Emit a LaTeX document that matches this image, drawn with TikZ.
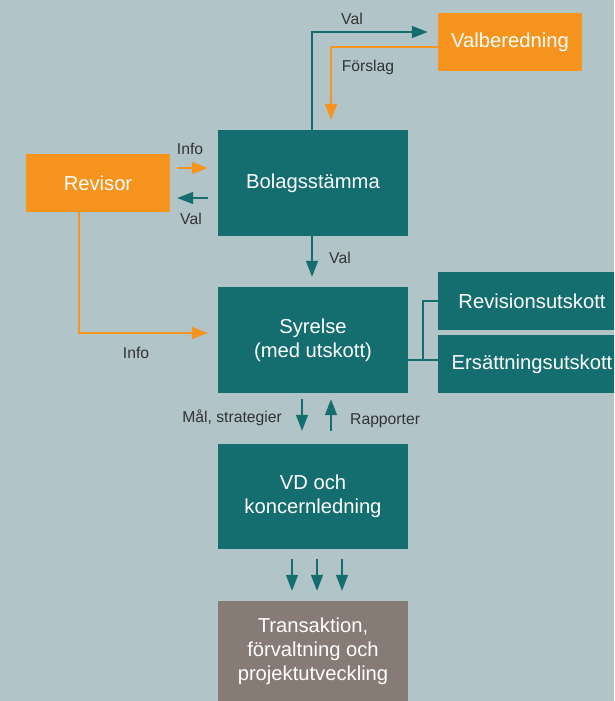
\documentclass[tikz,border=0pt]{standalone}
\usepackage{fontspec}
\setmainfont{Liberation Sans}
\usetikzlibrary{arrows.meta,calc}
\definecolor{bg}{HTML}{B1C4C8}
\definecolor{teal}{HTML}{146E70}
\definecolor{orng}{HTML}{F7941D}
\definecolor{brn}{HTML}{877B76}
\definecolor{lbl}{HTML}{333333}
\tikzset{
  box/.style={draw=none,text=white,align=center,inner sep=0pt,font=\fontsize{20.2}{24}\selectfont},
  tealbox/.style={box,fill=teal},
  orangebox/.style={box,fill=orng},
  brownbox/.style={box,fill=brn},
  lab/.style={text=lbl,inner sep=0pt,font=\fontsize{15.7}{18}\selectfont},
  tarr/.style={draw=teal,line width=1.5pt,-{Triangle[length=16pt,width=12pt]}},
  oarr/.style={draw=orng,line width=1.5pt,-{Triangle[length=16pt,width=12pt]}},
  branch/.style={draw=teal,line width=1.2pt},
}
\begin{document}
\begin{tikzpicture}[x=1pt,y=-1pt]
\fill[bg] (0,0) rectangle (614,701);
\useasboundingbox (0,0) rectangle (614,701);
\clip (0,0) rectangle (614,701);
% boxes
\node[tealbox,minimum width=190pt,minimum height=106pt] (bol) at (313,183) {Bolagsstämma};
\node[tealbox,minimum width=190pt,minimum height=106pt] (syr) at (313,340) {Syrelse\\(med utskott)};
\node[tealbox,minimum width=190pt,minimum height=105pt] (vd) at (313,496.5) {VD och\\koncernledning};
\node[brownbox,minimum width=190pt,minimum height=100pt] (tr) at (313,651) {Transaktion,\\förvaltning och\\projektutveckling};
\node[orangebox,minimum width=144pt,minimum height=58pt] (rev) at (98,183) {Revisor};
\node[orangebox,minimum width=144pt,minimum height=58pt] (valb) at (510,42) {Valberedning};
\node[tealbox,minimum width=188pt,minimum height=58pt] (revu) at (532,301) {Revisionsutskott};
\node[tealbox,minimum width=188pt,minimum height=58pt] (ers) at (532,364) {Ersättningsutskott};
% connectors
\coordinate (j) at (423,360);
\draw[tarr] ($(bol.north)+(-1,0)$) |- ($(valb.west)+(-10,-10)$);
\draw[oarr] ($(valb.west)+(0,5)$) -| ($(bol.north)+(18,-10)$);
\draw[oarr] ($(rev.east)+(7,-15)$) -- ($(bol.west)+(-10,-15)$);
\draw[tarr] ($(bol.west)+(-10,15)$) -- ($(rev.east)+(7,15)$);
\draw[tarr] ($(bol.south)+(-1,0)$) -- ($(syr.north)+(-1,-10)$);
\draw[oarr] ($(rev.south)+(-19,0)$) |- ($(syr.west)+(-10,-7)$);
\draw[branch] (revu.west) -| (j);
\draw[branch] ($(syr.east)+(0,20)$) -- ($(ers.west)+(0,-4)$);
\draw[tarr] ($(syr.south)+(-11,6)$) -- ($(vd.north)+(-11,-13)$);
\draw[tarr] ($(vd.north)+(18,-13)$) -- ($(syr.south)+(18,6)$);
\draw[tarr] ($(vd.south)+(-21,10)$) -- ($(tr.north)+(-21,-10)$);
\draw[tarr] ($(vd.south)+(4,10)$) -- ($(tr.north)+(4,-10)$);
\draw[tarr] ($(vd.south)+(29,10)$) -- ($(tr.north)+(29,-10)$);
% labels
\node[lab,anchor=base] (l1) at (352,25) {Val};
\node[lab,anchor=base] (l2) at (368,71) {Förslag};
\node[lab,anchor=base] (l3) at (190,154) {Info};
\node[lab,anchor=base] (l4) at (191,224) {Val};
\node[lab,anchor=base] (l5) at (340,263) {Val};
\node[lab,anchor=base] (l6) at (136,358) {Info};
\node[lab,anchor=base east] (l7) at (282,422) {Mål, strategier};
\node[lab,anchor=base west] (l8) at (350,424) {Rapporter};
\end{tikzpicture}
\end{document}
